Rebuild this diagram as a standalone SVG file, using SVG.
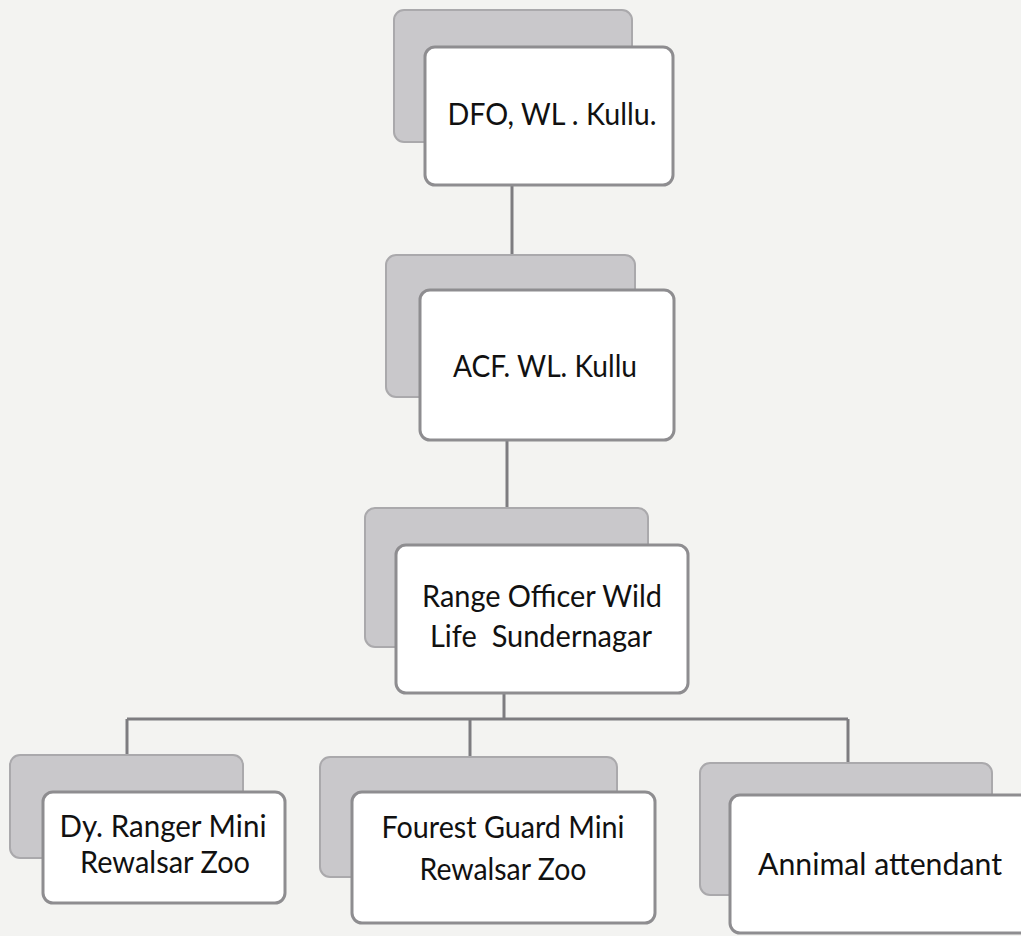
<svg xmlns="http://www.w3.org/2000/svg" width="1021" height="936" viewBox="0 0 1021 936">
<style>
.back{fill:#c9c8cb;stroke:#aaa9ac;stroke-width:2}
.front{fill:#ffffff;stroke:#8e8d90;stroke-width:3}
.lbl{font-family:Lato,"Open Sans","Liberation Sans",sans-serif;font-size:31px;fill:#111;text-anchor:middle}
.conn{stroke:#7d7c80;stroke-width:3;fill:none}
</style>
<rect width="1021" height="936" fill="#f3f3f1"/>
<g id="connectors">
<line class="conn" x1="512" y1="185" x2="512" y2="255"/>
<line class="conn" x1="507" y1="440" x2="507" y2="508"/>
<polyline class="conn" points="504,693 504,719"/>
<line class="conn" x1="127" y1="719" x2="848" y2="719"/>
<line class="conn" x1="127" y1="719" x2="127" y2="755"/>
<line class="conn" x1="470" y1="719" x2="470" y2="757"/>
<line class="conn" x1="848" y1="719" x2="848" y2="763"/>
</g>
<g id="dfo">
<rect class="back" x="394" y="10" width="238" height="132" rx="10"/>
<rect class="front" x="425" y="47" width="248" height="138" rx="10"/>
<text class="lbl" x="552" y="125" textLength="209" lengthAdjust="spacingAndGlyphs">DFO, WL . Kullu.</text>
</g>
<g id="acf">
<rect class="back" x="386" y="255" width="249" height="142" rx="10"/>
<rect class="front" x="420" y="290" width="254" height="150" rx="10"/>
<text class="lbl" x="545" y="377" textLength="184" lengthAdjust="spacingAndGlyphs">ACF. WL. Kullu</text>
</g>
<g id="range">
<rect class="back" x="365" y="508" width="283" height="139" rx="10"/>
<rect class="front" x="396" y="545" width="292" height="148" rx="10"/>
<text class="lbl" x="542" y="607" textLength="240" lengthAdjust="spacingAndGlyphs">Range Officer Wild</text>
<text class="lbl" x="541" y="647" xml:space="preserve" textLength="222" lengthAdjust="spacingAndGlyphs">Life  Sundernagar</text>
</g>
<g id="dyranger">
<rect class="back" x="10" y="755" width="233" height="103" rx="10"/>
<rect class="front" x="43" y="792" width="242" height="111" rx="10"/>
<text class="lbl" x="163" y="837" textLength="207" lengthAdjust="spacingAndGlyphs">Dy. Ranger Mini</text>
<text class="lbl" x="165" y="873" textLength="170" lengthAdjust="spacingAndGlyphs">Rewalsar Zoo</text>
</g>
<g id="guard">
<rect class="back" x="320" y="757" width="297" height="120" rx="10"/>
<rect class="front" x="352" y="792" width="303" height="131" rx="10"/>
<text class="lbl" x="503" y="838" textLength="243" lengthAdjust="spacingAndGlyphs">Fourest Guard Mini</text>
<text class="lbl" x="503" y="880" textLength="167" lengthAdjust="spacingAndGlyphs">Rewalsar Zoo</text>
</g>
<g id="attendant">
<rect class="back" x="700" y="763" width="292" height="132" rx="10"/>
<rect class="front" x="730" y="795" width="310" height="138" rx="10"/>
<text class="lbl" x="880" y="875" textLength="244" lengthAdjust="spacingAndGlyphs">Annimal attendant</text>
</g>
</svg>
